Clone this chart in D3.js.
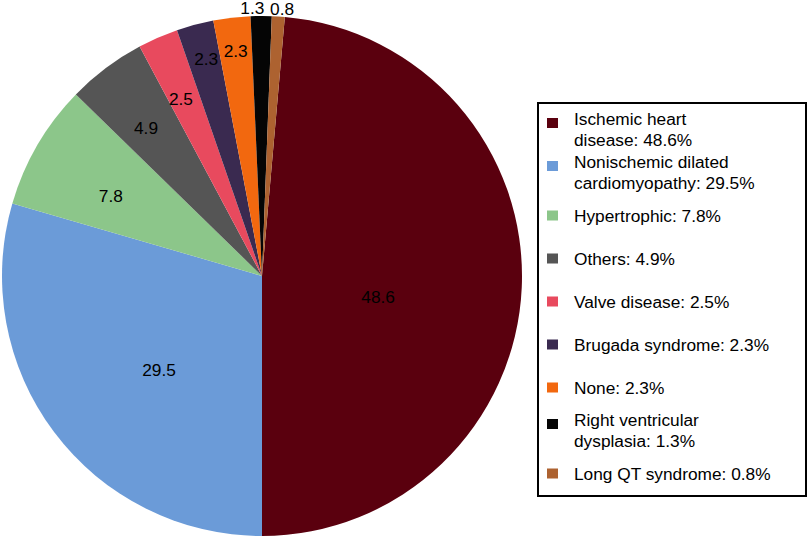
<!DOCTYPE html>
<html>
<head>
<meta charset="utf-8">
<script src="https://cdn.jsdelivr.net/npm/d3@7"></script>
<style>
  html, body { margin: 0; padding: 0; background: #fff; }
  svg { display: block; }
  text { font-family: "Liberation Sans", Arial, Helvetica, sans-serif; }
</style>
</head>
<body>
<svg id="chart" width="812" height="538"></svg>
<script>
// ---- data ----
const categories = ["Ischemic heart disease", "Nonischemic dilated cardiomyopathy", "Hypertrophic",
  "Others", "Valve disease", "Brugada syndrome", "None", "Right ventricular dysplasia", "Long QT syndrome"];
const values = [48.6, 29.5, 7.8, 4.9, 2.5, 2.3, 2.3, 1.3, 0.8];
const sliceLabels = ["48.6", "29.5", "7.8", "4.9", "2.5", "2.3", "2.3", "1.3", "0.8"];
const legendLabels = [
  ["Ischemic heart", "disease: 48.6%"],
  ["Nonischemic dilated", "cardiomyopathy: 29.5%"],
  ["Hypertrophic: 7.8%"],
  ["Others: 4.9%"],
  ["Valve disease: 2.5%"],
  ["Brugada syndrome: 2.3%"],
  ["None: 2.3%"],
  ["Right ventricular", "dysplasia: 1.3%"],
  ["Long QT syndrome: 0.8%"]
];
const colors = ["#5a000e", "#6b9bd8", "#8cc68a", "#555555", "#e84a5e", "#3a2a50", "#f2680f", "#050505", "#ad6230"];

// ---- style / layout ----
const cx = 262, cy = 276, R = 260;
// label placement: [angle nudge (deg), radius (px)]
const labelPlace = [[7.7, 118], [-5.3, 139], [-2.4, 171], [-1.2, 188], [-1, 195], [0.5, 224], [0, 227], [-1.9, 268], [0.7, 268]];
const fontSize = 17.3;

const svg = d3.select("#chart");
const total = d3.sum(values);
const start = Math.PI - values[0] / total * 2 * Math.PI;

const pie = d3.pie().sort(null).value(d => d)
  .startAngle(start).endAngle(start + 2 * Math.PI);
const arcs = pie(values);
const arc = d3.arc().innerRadius(0).outerRadius(R);

const g = svg.append("g").attr("transform", `translate(${cx},${cy})`);
g.selectAll("path.slice").data(arcs).enter().append("path")
  .attr("class", "slice")
  .attr("d", arc)
  .attr("fill", (d, i) => colors[i]);

g.selectAll("text.lbl").data(arcs).enter().append("text")
  .attr("class", "lbl")
  .attr("x", (d, i) => {
    const a = (d.startAngle + d.endAngle) / 2 + labelPlace[i][0] * Math.PI / 180;
    return labelPlace[i][1] * Math.sin(a);
  })
  .attr("y", (d, i) => {
    const a = (d.startAngle + d.endAngle) / 2 + labelPlace[i][0] * Math.PI / 180;
    return -labelPlace[i][1] * Math.cos(a);
  })
  .attr("dy", "0.36em")
  .attr("text-anchor", "middle")
  .attr("font-size", fontSize)
  .attr("fill", "#000")
  .text((d, i) => sliceLabels[i]);

// ---- legend ----
const lx = 538, ly = 103, lw = 268, lh = 393;
svg.append("rect")
  .attr("x", lx).attr("y", ly).attr("width", lw).attr("height", lh)
  .attr("fill", "#fff").attr("stroke", "#000").attr("stroke-width", 2);

const lineH = 21;
const slotY = d3.scalePoint().domain(categories).range([129.5, 473.5]);
const items = svg.selectAll("g.leg").data(categories).enter().append("g").attr("class", "leg");

items.each(function(c, i) {
  const lines = legendLabels[i];
  const n = lines.length;
  const yc = slotY(c);
  const firstCenter = yc - (n - 1) * lineH / 2;
  const sel = d3.select(this);
  sel.append("rect")
    .attr("x", 547).attr("y", firstCenter + (n > 1 ? 4 : 0) - 5)
    .attr("width", 11).attr("height", 10)
    .attr("fill", colors[i]);
  const t = sel.append("text")
    .attr("font-size", fontSize).attr("fill", "#000");
  lines.forEach((s, j) => {
    t.append("tspan")
      .attr("x", 574)
      .attr("y", firstCenter + j * lineH)
      .attr("dy", "0.36em")
      .text(s);
  });
});
</script>
</body>
</html>
